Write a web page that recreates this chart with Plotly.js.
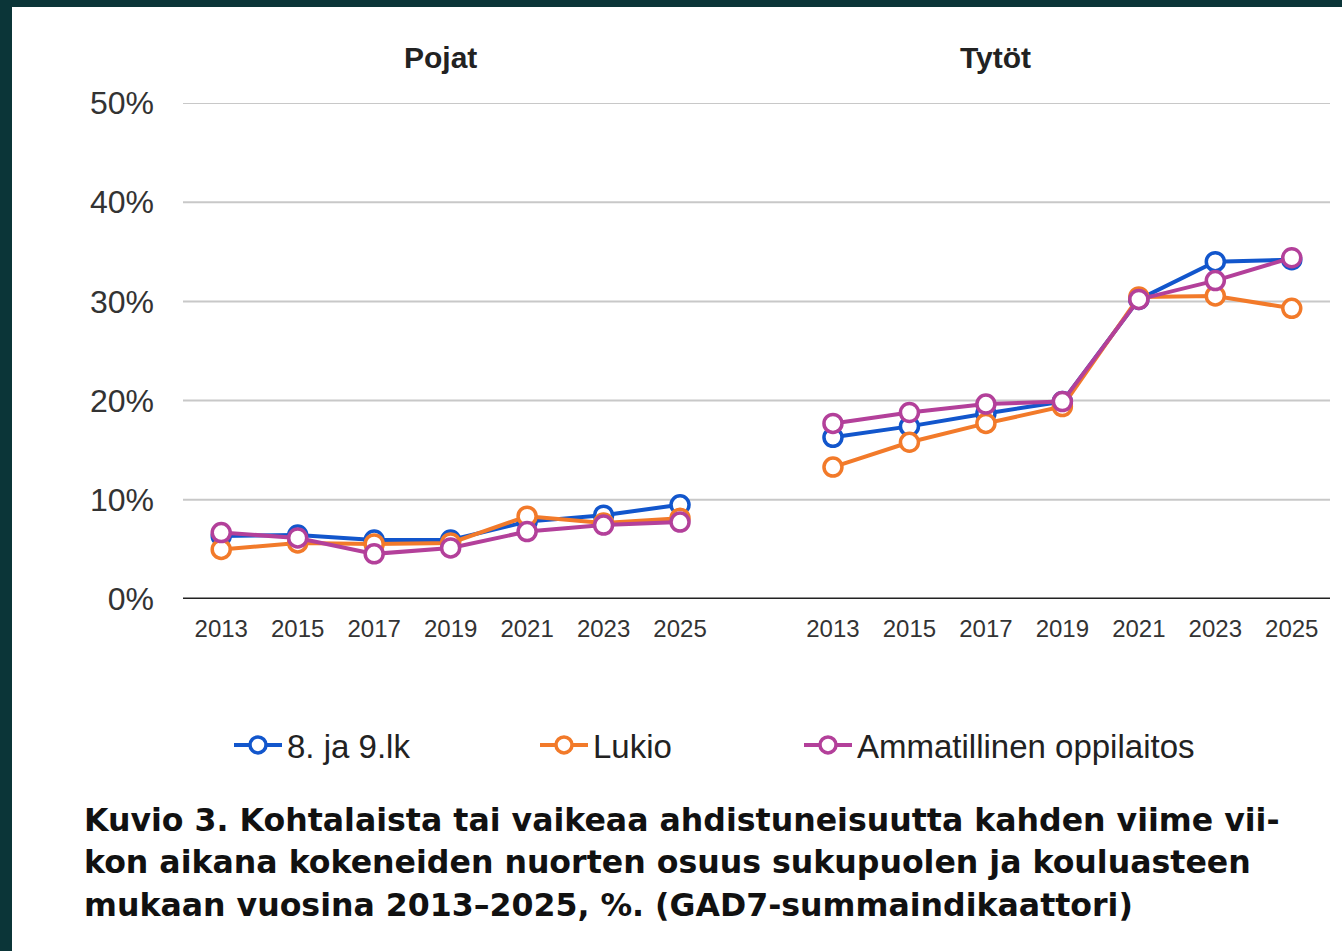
<!DOCTYPE html>
<html>
<head>
<meta charset="utf-8">
<script src="https://cdn.plot.ly/plotly-3.0.1.min.js"></script>
<style>
  html, body { margin: 0; padding: 0; background: #0b3538; width: 1342px; height: 951px; overflow: hidden; }
  #chart { position: absolute; left: 12px; top: 7px; width: 1330px; height: 944px; background: #ffffff; }
</style>
</head>
<body>
<div id="chart"></div>
<script>
// ---- Data ----
const years = ['2013', '2015', '2017', '2019', '2021', '2023', '2025'];
const seriesNames = ['8. ja 9.lk', 'Lukio', 'Ammatillinen oppilaitos'];
const seriesColors = ['#1256cc', '#f27a2a', '#b3409a'];
const groupTitles = ['Pojat', 'Tytöt'];

// Pojat (boys), %
const pojat_8ja9lk   = [6.35, 6.45, 5.95, 5.95, 7.8, 8.45, 9.5];
const pojat_lukio    = [5.0, 5.65, 5.55, 5.65, 8.35, 7.65, 8.15];
const pojat_amm      = [6.7, 6.15, 4.55, 5.15, 6.8, 7.45, 7.75];

// Tytöt (girls), %
const tytot_8ja9lk   = [16.3, 17.4, 18.7, 19.9, 30.2, 34.0, 34.2];
const tytot_lukio    = [13.3, 15.8, 17.7, 19.4, 30.45, 30.55, 29.3];
const tytot_amm      = [17.7, 18.8, 19.65, 19.9, 30.2, 32.1, 34.4];

const yTicks = [0, 10, 20, 30, 40, 50];
const yTickText = ['0%', '10%', '20%', '30%', '40%', '50%'];

const captionLines = [
  'Kuvio 3. Kohtalaista tai vaikeaa ahdistuneisuutta kahden viime vii-',
  'kon aikana kokeneiden nuorten osuus sukupuolen ja kouluasteen',
  'mukaan vuosina 2013–2025, %. (GAD7-summaindikaattori)'
];

// ---- Traces ----
const pojatData = [pojat_8ja9lk, pojat_lukio, pojat_amm];
const tytotData = [tytot_8ja9lk, tytot_lukio, tytot_amm];
const legendIds = ['legend', 'legend2', 'legend3'];

function mk(vals, i, xa, show) {
  return {
    type: 'scatter', mode: 'lines+markers',
    x: years, y: vals, xaxis: xa, yaxis: 'y',
    name: seriesNames[i], legendgroup: 'g' + i, legend: legendIds[i], showlegend: show,
    line: { color: seriesColors[i], width: 4 },
    marker: { symbol: 'circle', size: 18, color: '#ffffff', line: { color: seriesColors[i], width: 3.5 } },
    hoverinfo: 'x+y+name'
  };
}
const traces = [];
for (let i = 0; i < 3; i++) traces.push(mk(pojatData[i], i, 'x', true));
for (let i = 0; i < 3; i++) traces.push(mk(tytotData[i], i, 'x2', false));

// ---- Layout ----
const fontFam = '"Liberation Sans", Arial, sans-serif';
const shapes = [];
yTicks.forEach(v => {
  if (v === 0) return;
  shapes.push({ type: 'line', xref: 'paper', yref: 'y', x0: 0, x1: 1, y0: v, y1: v,
    line: { color: '#c8c8c8', width: 2 }, layer: 'below' });
});
shapes.push({ type: 'line', xref: 'paper', yref: 'y', x0: 0, x1: 1, y0: 0, y1: 0,
  line: { color: '#222222', width: 3 }, layer: 'below' });

const annotations = [
  { text: '<b>' + groupTitles[0] + '</b>', xref: 'paper', yref: 'paper', x: 0.2249, y: 1.0927,
    xanchor: 'center', yanchor: 'middle', showarrow: false, font: { family: fontFam, size: 30, color: '#222' } },
  { text: '<b>' + groupTitles[1] + '</b>', xref: 'paper', yref: 'paper', x: 0.7088, y: 1.0927,
    xanchor: 'center', yanchor: 'middle', showarrow: false, font: { family: fontFam, size: 30, color: '#222' } }
];
const capY = [820, 862, 905];
captionLines.forEach((t, k) => {
  annotations.push({ text: '<b>' + t + '</b>', xref: 'paper', yref: 'paper',
    x: (82 - 183) / 1147, y: (599 - capY[k]) / 496, xanchor: 'left', yanchor: 'middle',
    showarrow: false, font: { family: '"DejaVu Sans", "Noto Sans", sans-serif', size: 31.6, color: '#111' } });
});

const legendCommon = {
  orientation: 'h', xanchor: 'left', yanchor: 'middle', y: (599 - 745) / 496,
  font: { family: fontFam, size: 33, color: '#222' }, bgcolor: 'rgba(0,0,0,0)',
  itemwidth: 48, itemclick: false, itemdoubleclick: false
};

const layout = {
  width: 1330, height: 944,
  margin: { l: 171, r: 12, t: 96, b: 352 },
  paper_bgcolor: '#ffffff', plot_bgcolor: '#ffffff',
  showlegend: true,
  legend: Object.assign({}, legendCommon, { x: (229 - 183) / 1147 }),
  legend2: Object.assign({}, legendCommon, { x: (535 - 183) / 1147 }),
  legend3: Object.assign({}, legendCommon, { x: (799 - 183) / 1147 }),
  xaxis: { domain: [0, 7 / 15], type: 'category', range: [-0.5, 6.5], showgrid: false, zeroline: false,
    showline: false, ticks: '', tickfont: { family: fontFam, size: 24, color: '#333' }, ticklabelstandoff: 13, fixedrange: true },
  xaxis2: { domain: [8 / 15, 1], type: 'category', range: [-0.5, 6.5], showgrid: false, zeroline: false,
    showline: false, ticks: '', anchor: 'y', tickfont: { family: fontFam, size: 24, color: '#333' }, ticklabelstandoff: 13, fixedrange: true },
  yaxis: { range: [0, 50], tickvals: yTicks, ticktext: yTickText, showgrid: false, zeroline: false,
    showline: false, ticks: '', tickfont: { family: fontFam, size: 32, color: '#333' }, ticklabelstandoff: 28, fixedrange: true },
  shapes: shapes,
  annotations: annotations
};

Plotly.newPlot('chart', traces, layout, { displayModeBar: false, staticPlot: false });
</script>
</body>
</html>
